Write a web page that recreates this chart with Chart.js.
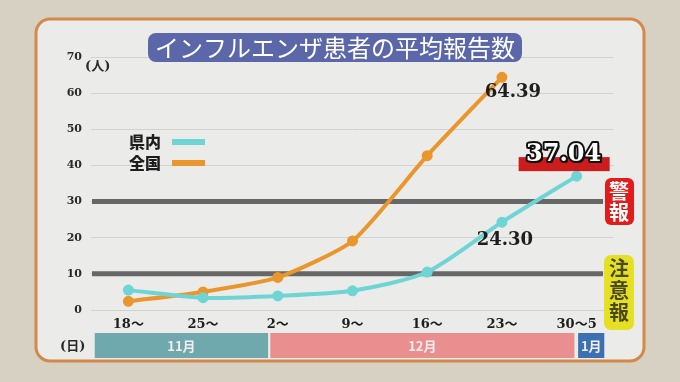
<!DOCTYPE html>
<html lang="ja">
<head>
<meta charset="utf-8">
<script src="https://cdn.jsdelivr.net/npm/chart.js@4"></script>
<style>
  html, body { margin: 0; padding: 0; background: #d7d1c4; }
  canvas { display: block; }
</style>
</head>
<body>
<canvas id="fluChart" width="680" height="382"></canvas>
<script>
// --- DATA ---
const weekLabels = ['18〜', '25〜', '2〜', '9〜', '16〜', '23〜', '30〜5'];
const prefValues = [5.5, 3.4, 3.9, 5.3, 10.5, 24.30, 37.04];
const nationalValues = [2.4, 5.0, 9.0, 19.1, 42.7, 64.39, null];
const alertLevels = [30, 10];
const months = ['11月', '12月', '1月'];
const monthFrom = [-0.45, 1.9, 6.02];   // in week-index units
const monthTo = [1.87, 5.97, 6.37];

const SERIF = '"DejaVu Serif", "Noto Sans CJK JP", serif';
const GOTHIC = '"Noto Sans CJK JP", sans-serif';
const CYAN = '#6fd4d4';
const ORANGE = '#e9962c';

function box(ctx, x, y, w, h, r, fill) {
  ctx.beginPath();
  ctx.roundRect(x, y, w, h, r);
  ctx.fillStyle = fill;
  ctx.fill();
}

// --- DECORATION PLUGIN ---
const decor = {
  id: 'decor',
  beforeDraw(chart) {
    const ctx = chart.ctx;
    ctx.save();
    ctx.fillStyle = '#d7d1c4';
    ctx.fillRect(0, 0, chart.width, chart.height);
    ctx.beginPath();
    ctx.roundRect(36, 19, 608, 342, 14);
    ctx.fillStyle = '#ebebea';
    ctx.fill();
    ctx.lineWidth = 3;
    ctx.strokeStyle = '#d3894a';
    ctx.stroke();
    ctx.restore();
  },

  beforeDatasetsDraw(chart) {
    const { ctx, chartArea, scales } = chart;
    ctx.save();
    ctx.strokeStyle = '#676767';
    ctx.lineWidth = 5;
    alertLevels.forEach(v => {
      const y = scales.y.getPixelForValue(v);
      ctx.beginPath();
      ctx.moveTo(chartArea.left + 1, y);
      ctx.lineTo(chartArea.right - 11, y);
      ctx.stroke();
    });
    ctx.restore();
  },

  afterDatasetsDraw(chart) {
    const { ctx, scales } = chart;
    const xs = scales.x, ys = scales.y;
    ctx.save();
    ctx.textAlign = 'center';
    ctx.textBaseline = 'middle';
    ctx.fillStyle = '#1e1e1e';
    ctx.font = 'bold 18px ' + SERIF;
    ctx.fillText(nationalValues[5].toFixed(2), xs.getPixelForValue(5) + 11, ys.getPixelForValue(nationalValues[5]) + 15);
    ctx.fillText(prefValues[5].toFixed(2), xs.getPixelForValue(5) + 3, ys.getPixelForValue(prefValues[5]) + 18);

    // highlighted latest value
    const lx = xs.getPixelForValue(6) - 13;
    const ly = ys.getPixelForValue(prefValues[6]) - 21;
    ctx.fillStyle = '#cc1c1c';
    ctx.fillRect(lx - 45, ly + 2, 91, 14);
    ctx.font = 'bold 24px ' + SERIF;
    const txt = prefValues[6].toFixed(2);
    ctx.fillStyle = '#111';
    ctx.fillText(txt, lx + 2, ly + 2);
    ctx.lineWidth = 4;
    ctx.lineJoin = 'round';
    ctx.strokeStyle = '#111';
    ctx.strokeText(txt, lx, ly);
    ctx.fillStyle = '#ffffff';
    ctx.fillText(txt, lx, ly);
    ctx.restore();
  },

  afterDraw(chart) {
    const { ctx, chartArea, scales } = chart;
    const xs = scales.x;
    ctx.save();

    // title
    box(ctx, 148, 33, 374, 29, 8, '#5b67a9');
    ctx.fillStyle = '#ffffff';
    ctx.font = '400 24px ' + GOTHIC;
    ctx.textAlign = 'center';
    ctx.textBaseline = 'middle';
    ctx.fillText('インフルエンザ患者の平均報告数', 335, 48);

    // legend
    ctx.font = '900 16px ' + GOTHIC;
    ctx.fillStyle = '#1e1e1e';
    ctx.textAlign = 'left';
    ctx.fillText('県内', 129, 142);
    ctx.fillText('全国', 129, 163);
    ctx.fillStyle = CYAN;
    ctx.fillRect(172, 139, 33, 6);
    ctx.fillStyle = ORANGE;
    ctx.fillRect(172, 160, 33, 6);

    // unit labels
    ctx.font = 'bold 13px ' + SERIF;
    ctx.fillStyle = '#2a2a2a';
    ctx.fillText('(人)', 85, 67);
    ctx.fillText('(日)', 60, 347);

    // alert badges
    box(ctx, 605, 178, 29, 47, 6, '#e01c1c');
    ctx.textAlign = 'center';
    ctx.font = 'bold 20px ' + GOTHIC;
    ctx.fillStyle = '#ffffff';
    ctx.fillText('警', 619, 191);
    ctx.fillText('報', 619, 212);
    box(ctx, 604, 255, 30, 75, 7, '#e6e024');
    ctx.fillStyle = '#4b4a1e';
    ctx.fillText('注', 619, 268);
    ctx.fillText('意', 619, 290);
    ctx.fillText('報', 619, 312);

    // month bars
    const step = xs.getPixelForValue(1) - xs.getPixelForValue(0);
    const colors = ['#6fa8ad', '#e98f8f', '#3b70b2'];
    const top = chartArea.bottom + 23;
    ctx.font = 'bold 13px ' + GOTHIC;
    months.forEach((m, i) => {
      const x0 = xs.getPixelForValue(0) + monthFrom[i] * step;
      const x1 = xs.getPixelForValue(0) + monthTo[i] * step;
      ctx.fillStyle = colors[i];
      ctx.fillRect(x0, top, x1 - x0, 25);
      ctx.fillStyle = '#f3ecec';
      ctx.fillText(m, (x0 + x1) / 2, top + 13);
    });
    ctx.restore();
  }
};

// --- CHART ---
new Chart(document.getElementById('fluChart'), {
  type: 'line',
  data: {
    labels: weekLabels,
    datasets: [
      {
        label: '県内',
        data: prefValues,
        borderColor: CYAN,
        backgroundColor: CYAN,
        borderWidth: 4,
        pointRadius: 3.5,
        tension: 0.25
      },
      {
        label: '全国',
        data: nationalValues,
        borderColor: ORANGE,
        backgroundColor: ORANGE,
        borderWidth: 4,
        pointRadius: 3.5,
        tension: 0.2
      }
    ]
  },
  options: {
    responsive: false,
    animation: false,
    devicePixelRatio: 1,
    layout: { padding: { top: 57, right: 66, left: 0, bottom: 0 } },
    plugins: { legend: { display: false }, tooltip: { enabled: false } },
    scales: {
      x: {
        offset: true,
        grid: { display: false, drawTicks: false },
        border: { display: false },
        afterFit: s => { s.height = 72; },
        ticks: {
          autoSkip: false,
          maxRotation: 0,
          padding: 7,
          color: '#1e1e1e',
          font: { family: SERIF, size: 13, weight: 'bold' }
        }
      },
      y: {
        min: 0,
        max: 70,
        afterFit: s => { s.width = 91; },
        grid: { color: '#d2d2d2', lineWidth: 1, drawTicks: false },
        border: { display: false },
        ticks: {
          stepSize: 10,
          padding: 9,
          color: '#2a2a2a',
          font: { family: SERIF, size: 11, weight: 'bold' }
        }
      }
    }
  },
  plugins: [decor]
});
</script>
</body>
</html>
